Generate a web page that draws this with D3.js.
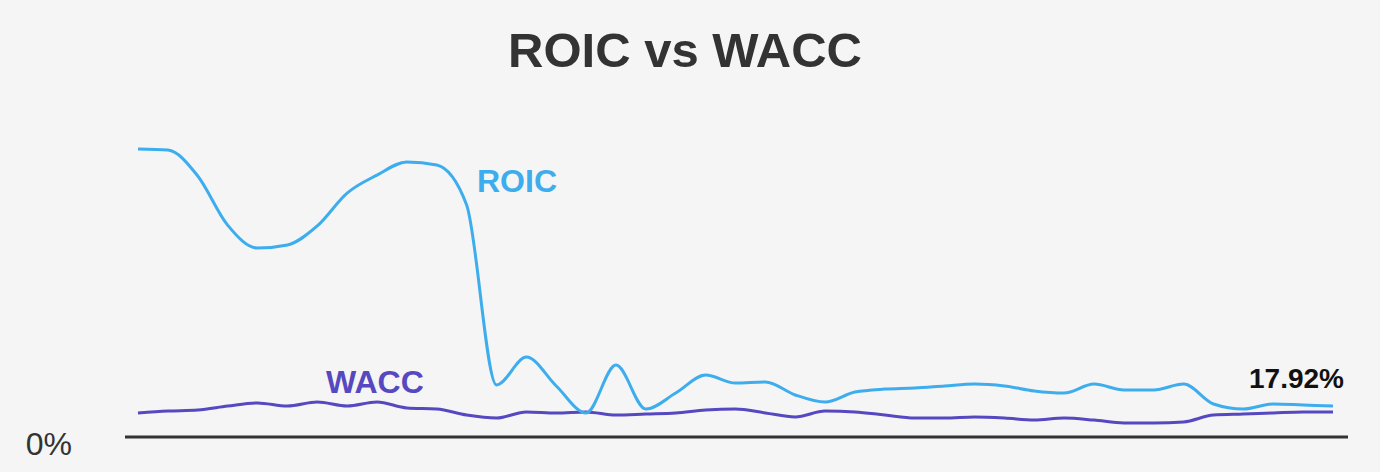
<!DOCTYPE html>
<html>
<head>
<meta charset="utf-8">
<script src="https://cdn.jsdelivr.net/npm/d3@7"></script>
<style>
  html, body { margin: 0; padding: 0; background: #f5f5f5; }
  svg { display: block; font-family: "Liberation Sans", Arial, Helvetica, sans-serif; }
</style>
</head>
<body>
<svg id="chart" width="1380" height="472"></svg>
<script>
const title = "ROIC vs WACC";
const periods = d3.range(41);
const roic = [166.5, 165.9, 150.9, 122.5, 109.2, 111.0, 122.0, 141.0, 151.4, 159.0,
              157.2, 134.1, 30.1, 46.2, 29.5, 13.9, 41.6, 16.2, 25.4, 35.8,
              31.2, 31.8, 24.3, 20.2, 26.0, 27.7, 28.3, 29.5, 30.6, 29.5,
              26.6, 25.4, 30.6, 27.2, 27.2, 30.6, 19.1, 16.2, 19.1, 18.5, 17.92];
const wacc = [13.9, 15.0, 15.6, 17.9, 19.7, 17.9, 20.2, 17.9, 20.2, 16.8,
              16.2, 12.7, 11.0, 14.5, 13.9, 14.5, 12.7, 13.3, 13.9, 15.6,
              16.2, 13.9, 11.6, 15.0, 14.5, 12.7, 11.0, 11.0, 11.6, 11.0,
              9.8, 11.0, 9.8, 8.1, 8.1, 8.7, 12.7, 13.3, 13.9, 14.5, 14.5];
const yTicks = [0];
const lastLabel = "17.92%";

const svg = d3.select("#chart");
const x = d3.scaleLinear().domain([0, periods.length - 1]).range([138, 1333]);
const y = d3.scaleLinear().domain([0, 166.5]).range([437, 149]);

// title
svg.append("text").attr("x", 685).attr("y", 67).attr("text-anchor", "middle")
  .attr("font-size", 49).attr("font-weight", "bold").attr("fill", "#333").text(title);

// baseline axis
const xAxis = d3.axisBottom(x).tickValues([]).tickSizeOuter(0);
const gx = svg.append("g").attr("transform", `translate(0,${y(0)})`).call(xAxis);
gx.select(".domain").attr("d", "M125,0H1348").attr("stroke", "#333").attr("stroke-width", 3);

// y tick label
const yAxis = d3.axisLeft(y).tickValues(yTicks).tickFormat(d => d + "%").tickSize(0);
const gy = svg.append("g").attr("transform", "translate(72,0)").call(yAxis);
gy.select(".domain").remove();
gy.selectAll("text").attr("font-size", 32).attr("fill", "#333")
  .attr("font-family", "'Liberation Sans', Arial, sans-serif")
  .attr("dy", "0.55em").attr("x", 0);

const line = d3.line().x((d, i) => x(periods[i])).y(d => y(d)).curve(d3.curveMonotoneX);

svg.append("path").datum(wacc).attr("d", line).attr("fill", "none")
  .attr("stroke", "#5548c0").attr("stroke-width", 3);
svg.append("path").datum(roic).attr("d", line).attr("fill", "none")
  .attr("stroke", "#3dadee").attr("stroke-width", 3);

// series labels
svg.append("text").attr("x", 477).attr("y", 192).attr("font-size", 32).attr("font-weight", "bold")
  .attr("fill", "#3dadee").text("ROIC");
svg.append("text").attr("x", 326).attr("y", 393).attr("font-size", 32).attr("font-weight", "bold")
  .attr("fill", "#5548c0").text("WACC");
svg.append("text").attr("x", 1344).attr("y", 388).attr("text-anchor", "end").attr("font-size", 28)
  .attr("font-weight", "bold").attr("fill", "#111").text(lastLabel);
</script>
</body>
</html>
